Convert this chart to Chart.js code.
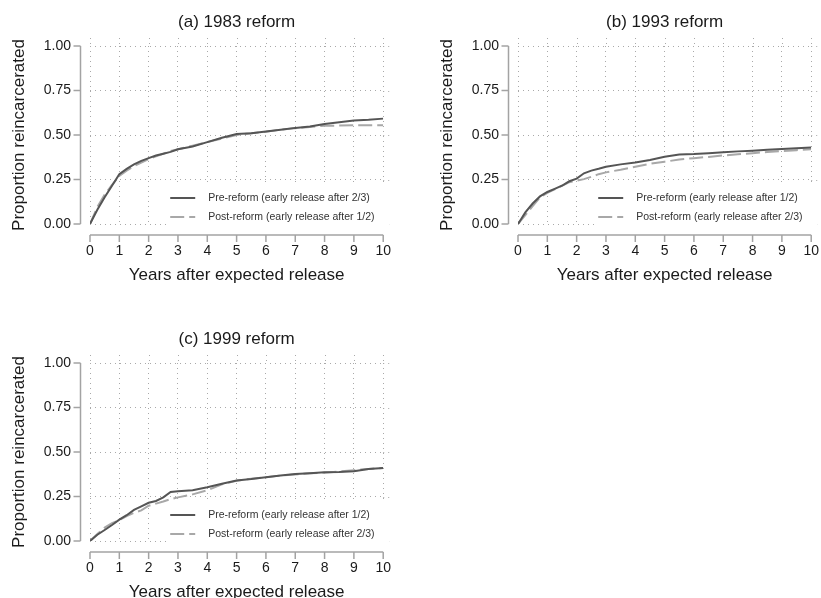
<!DOCTYPE html>
<html>
<head>
<meta charset="utf-8">
<script src="https://cdn.jsdelivr.net/npm/chart.js@4.4.0/dist/chart.umd.min.js"></script>
<style>
  html, body { margin: 0; padding: 0; background: #fff; }
  #wrap { position: relative; width: 821px; height: 598px; overflow: hidden; background: #fff; }
  #wrap canvas { position: absolute; }
</style>
</head>
<body>
<div id="wrap">
  <canvas id="panelA" width="410" height="300" style="left:0;top:0"></canvas>
  <canvas id="panelB" width="410" height="300" style="left:428px;top:0"></canvas>
  <canvas id="panelC" width="410" height="300" style="left:0;top:317px"></canvas>
</div>
<script>
// --- dados ---
const years = [0, 0.25, 0.5, 0.75, 1, 1.25, 1.5, 1.75, 2, 2.25, 2.5, 2.75, 3, 3.5, 4, 4.5, 5, 5.5, 6, 6.5, 7, 7.5, 8, 8.5, 9, 9.5, 10];
const xTicks = [0, 1, 2, 3, 4, 5, 6, 7, 8, 9, 10];
const yTicks = [0, 0.25, 0.5, 0.75, 1];

const preA  = [0, 0.08, 0.15, 0.215, 0.28, 0.31, 0.335, 0.355, 0.37, 0.385, 0.395, 0.405, 0.42, 0.435, 0.46, 0.485, 0.505, 0.51, 0.52, 0.53, 0.54, 0.548, 0.562, 0.572, 0.582, 0.585, 0.592];
const postA = [0, 0.095, 0.165, 0.22, 0.27, 0.3, 0.325, 0.345, 0.365, 0.38, 0.395, 0.41, 0.42, 0.44, 0.46, 0.48, 0.5, 0.51, 0.518, 0.53, 0.538, 0.545, 0.552, 0.553, 0.555, 0.555, 0.555];

const preB  = [0, 0.065, 0.115, 0.155, 0.18, 0.197, 0.215, 0.24, 0.255, 0.285, 0.3, 0.31, 0.322, 0.335, 0.345, 0.36, 0.378, 0.39, 0.393, 0.398, 0.403, 0.408, 0.412, 0.417, 0.422, 0.426, 0.43];
const postB = [0, 0.05, 0.1, 0.15, 0.175, 0.195, 0.215, 0.235, 0.243, 0.252, 0.265, 0.28, 0.29, 0.305, 0.322, 0.338, 0.35, 0.362, 0.37, 0.377, 0.385, 0.392, 0.398, 0.404, 0.41, 0.415, 0.42];

const preC  = [0, 0.035, 0.062, 0.09, 0.12, 0.145, 0.175, 0.195, 0.215, 0.225, 0.245, 0.275, 0.28, 0.285, 0.302, 0.322, 0.34, 0.348, 0.358, 0.368, 0.376, 0.381, 0.386, 0.388, 0.392, 0.405, 0.41];
const postC = [0, 0.04, 0.075, 0.1, 0.118, 0.14, 0.158, 0.172, 0.198, 0.21, 0.222, 0.235, 0.245, 0.262, 0.285, 0.318, 0.338, 0.35, 0.358, 0.368, 0.374, 0.38, 0.384, 0.39, 0.398, 0.405, 0.41];

const labelPre23  = 'Pre-reform (early release after 2/3)';
const labelPre12  = 'Pre-reform (early release after 1/2)';
const labelPost12 = 'Post-reform (early release after 1/2)';
const labelPost23 = 'Post-reform (early release after 2/3)';

const FONT = '"Liberation Sans", Arial, Helvetica, sans-serif';
const GRID_COLOR = '#a9a9a9';
const GRID_DASH = [1, 4];
const AXIS_COLOR = '#a3a3a3';

Chart.defaults.font.family = FONT;
Chart.defaults.color = '#1a1a1a';

// Eixos ao estilo Stata (afastados da área do gráfico) + legenda dentro do gráfico
const stataPlugin = {
    id: 'stataAxes',
    beforeDatasetsDraw(chart) {
        const { ctx, chartArea: a, scales: { x, y } } = chart;
        ctx.save();

        // prolongamento das linhas da grelha
        ctx.strokeStyle = GRID_COLOR;
        ctx.lineWidth = 1;
        ctx.setLineDash(GRID_DASH);
        xTicks.forEach(v => {
            const px = Math.round(x.getPixelForValue(v)) + 0.5;
            ctx.beginPath(); ctx.moveTo(px, a.top - 8); ctx.lineTo(px, a.top); ctx.stroke();
        });
        yTicks.forEach(v => {
            const py = Math.round(y.getPixelForValue(v)) + 0.5;
            ctx.beginPath(); ctx.moveTo(a.right, py); ctx.lineTo(a.right + 10, py); ctx.stroke();
        });
        ctx.setLineDash([]);

        // eixo Y
        ctx.strokeStyle = AXIS_COLOR;
        ctx.lineWidth = 1.5;
        const ax = a.left - 9.5;
        ctx.beginPath();
        ctx.moveTo(ax, y.getPixelForValue(0));
        ctx.lineTo(ax, y.getPixelForValue(1));
        ctx.stroke();
        yTicks.forEach(v => {
            const py = y.getPixelForValue(v);
            ctx.beginPath(); ctx.moveTo(ax - 7, py); ctx.lineTo(ax, py); ctx.stroke();
        });

        // eixo X
        const ay = a.bottom + 11;
        ctx.beginPath();
        ctx.moveTo(x.getPixelForValue(0), ay);
        ctx.lineTo(x.getPixelForValue(10), ay);
        ctx.stroke();
        xTicks.forEach(v => {
            const px = x.getPixelForValue(v);
            ctx.beginPath(); ctx.moveTo(px, ay); ctx.lineTo(px, ay + 7); ctx.stroke();
        });

        // legenda
        ctx.fillStyle = '#fff';
        ctx.fillRect(a.right - 217, a.bottom - 39, 223, 42);
        ctx.font = '10.5px ' + FONT;
        ctx.textBaseline = 'middle';
        chart.data.datasets.forEach((ds, i) => {
            const ry = a.bottom - 26 + i * 19;
            ctx.strokeStyle = ds.borderColor;
            ctx.lineWidth = ds.borderWidth;
            ctx.setLineDash(ds.borderDash || []);
            ctx.beginPath(); ctx.moveTo(a.right - 213, ry); ctx.lineTo(a.right - 188, ry); ctx.stroke();
            ctx.setLineDash([]);
            ctx.fillStyle = '#333';
            ctx.fillText(ds.label, a.right - 175, ry);
        });

        ctx.restore();
    }
};

function makePanel(canvasId, title, preLabel, postLabel, pre, post) {
    const ctx = document.getElementById(canvasId).getContext('2d');
    return new Chart(ctx, {
        type: 'line',
        data: {
            datasets: [
                {
                    label: preLabel,
                    data: years.map((v, i) => ({ x: v, y: pre[i] })),
                    borderColor: '#555555',
                    borderWidth: 2,
                    pointRadius: 0,
                    tension: 0,
                    fill: false
                },
                {
                    label: postLabel,
                    data: years.map((v, i) => ({ x: v, y: post[i] })),
                    borderColor: '#a8a8a8',
                    borderWidth: 2,
                    borderDash: [14, 5],
                    pointRadius: 0,
                    tension: 0,
                    fill: false
                }
            ]
        },
        options: {
            responsive: false,
            animation: false,
            layout: { padding: { left: 0, right: 25, top: 0, bottom: 0 } },
            plugins: {
                legend: { display: false },
                tooltip: { enabled: false },
                title: {
                    display: true,
                    text: title,
                    fullSize: false,
                    color: '#1a1a1a',
                    font: { size: 17, weight: 'normal', lineHeight: 1.2 },
                    padding: { top: 11.8, bottom: 13.8 }
                }
            },
            scales: {
                x: {
                    type: 'linear',
                    min: 0,
                    max: 10,
                    afterBuildTicks: s => { s.ticks = xTicks.map(v => ({ value: v })); },
                    afterFit: s => { s.height = 76; },
                    grid: { color: GRID_COLOR, lineWidth: 1, drawTicks: false },
                    border: { display: false, dash: GRID_DASH },
                    ticks: { padding: 19, color: '#1a1a1a', font: { size: 14 }, maxRotation: 0 },
                    title: {
                        display: true,
                        text: 'Years after expected release',
                        color: '#1a1a1a',
                        font: { size: 17, lineHeight: 1.2 },
                        padding: { top: 0, bottom: 14.8 }
                    }
                },
                y: {
                    type: 'linear',
                    min: 0,
                    max: 1,
                    afterBuildTicks: s => { s.ticks = yTicks.map(v => ({ value: v })); },
                    afterFit: s => { s.width = 90; },
                    grid: { color: GRID_COLOR, lineWidth: 1, drawTicks: false },
                    border: { display: false, dash: GRID_DASH },
                    ticks: { padding: 19, color: '#1a1a1a', font: { size: 14 }, callback: v => v.toFixed(2) },
                    title: {
                        display: true,
                        text: 'Proportion reincarcerated',
                        color: '#1a1a1a',
                        font: { size: 17, lineHeight: 1.2 },
                        padding: { top: 8.8, bottom: 0 }
                    }
                }
            }
        },
        plugins: [stataPlugin]
    });
}

makePanel('panelA', '(a) 1983 reform', labelPre23, labelPost12, preA, postA);
makePanel('panelB', '(b) 1993 reform', labelPre12, labelPost23, preB, postB);
makePanel('panelC', '(c) 1999 reform', labelPre12, labelPost23, preC, postC);
</script>
</body>
</html>
